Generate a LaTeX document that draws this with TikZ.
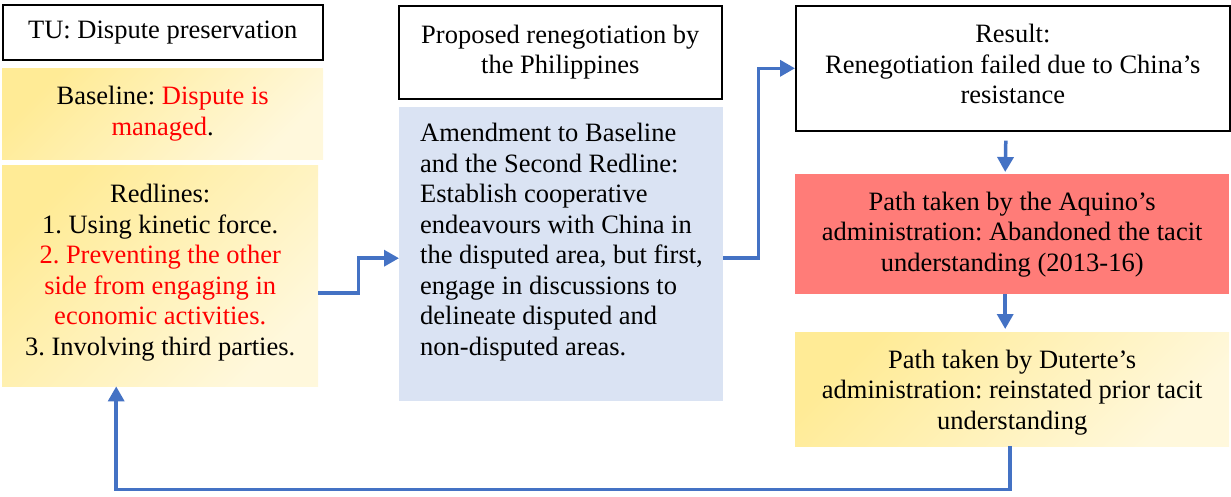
\documentclass[tikz,border=0pt]{standalone}
\usepackage{fontspec}
\setmainfont{Liberation Serif}
\usetikzlibrary{arrows.meta}
\frenchspacing
\definecolor{arrowblue}{HTML}{4472C4}
\definecolor{paleblue}{HTML}{DAE3F3}
\definecolor{salmon}{HTML}{FF7C78}
\definecolor{ylwA}{HTML}{FFEB96}
\definecolor{ylwB}{HTML}{FFF8DC}
\tikzset{
  box/.style={anchor=north west, inner sep=0pt, align=center,
    font=\fontsize{26.5}{30.5}\selectfont},
  outlined/.style={box, draw=black, line width=1.6pt, fill=white},
  sunny/.style={box, left color=ylwA, right color=ylwB, shading angle=45},
  words/.style={box, anchor=center},
  flow/.style={draw=arrowblue, line width=3.5pt, line join=miter,
    -{Triangle[length=15pt,width=16pt]}},
}
\begin{document}
\begin{tikzpicture}[x=1pt,y=-1pt]
\useasboundingbox (0,0) rectangle (1231,496);

% left column: tacit understanding
\node[outlined, minimum width=320pt, minimum height=55pt] (tu) at (2,4)
  {TU: Dispute preservation};
\node[sunny, minimum width=321pt, minimum height=91pt] (baseline) at (2,68)
  {Baseline: \textcolor{red}{Dispute is}\\\textcolor{red}{managed}.};
\node[sunny, minimum width=316pt, minimum height=221pt] (redlines) at (2,165) {};
\node[words] (redlinestext) at ([yshift=3pt]redlines.center)
  {Redlines:\\1. Using kinetic force.\\
   \textcolor{red}{2. Preventing the other}\\
   \textcolor{red}{side from engaging in}\\
   \textcolor{red}{economic activities.}\\
   3. Involving third parties.};

% middle column: proposal
\node[outlined, minimum width=323pt, minimum height=93pt] (proposal) at (398,5)
  {Proposed renegotiation by\\the Philippines};
\node[box, fill=paleblue, minimum width=324pt, minimum height=294pt] (amend) at (399,107) {};
\node[box, align=left, anchor=north west] (amendtext) at ([xshift=21pt,yshift=-16pt]amend.north west)
  {Amendment to Baseline\\and the Second Redline:\\Establish cooperative\\
   endeavours with China in\\the disputed area, but first,\\
   engage in discussions to\\delineate disputed and\\non-disputed areas.};

% right column: outcomes
\node[outlined, minimum width=434pt, minimum height=125pt] (result) at (795,5) {};
\node[words] (resulttext) at ([yshift=4pt]result.center)
  {Result:\\Renegotiation failed due to China’s\\resistance};
\node[box, fill=salmon, minimum width=434pt, minimum height=120pt] (aquino) at (795,174)
  {Path taken by the Aquino’s\\administration: Abandoned the tacit\\understanding (2013-16)};
\node[sunny, minimum width=434pt, minimum height=114pt] (duterte) at (795,332) {};
\node[words] (dutertetext) at ([yshift=-3pt]duterte.center)
  {Path taken by Duterte’s\\administration: reinstated prior tacit\\understanding};

% connectors
\draw[flow] ([yshift=-17.5pt]redlines.east) -- ++(40,0) |- ([yshift=-4pt]amend.west);
\draw[flow] ([yshift=-4pt]amend.east) -- ++(35,0) |- (result.west);
\draw[flow] ([xshift=-7pt,yshift=-9pt]result.south) -- ([xshift=-7pt,yshift=2pt]aquino.north);
\draw[flow] ([xshift=-7pt]aquino.south) -- ([xshift=-7pt,yshift=3pt]duterte.north);
\draw[flow] ([xshift=-2pt]duterte.south) -- ++(0,43) -| ([xshift=-44pt]redlines.south);
\end{tikzpicture}
\end{document}
